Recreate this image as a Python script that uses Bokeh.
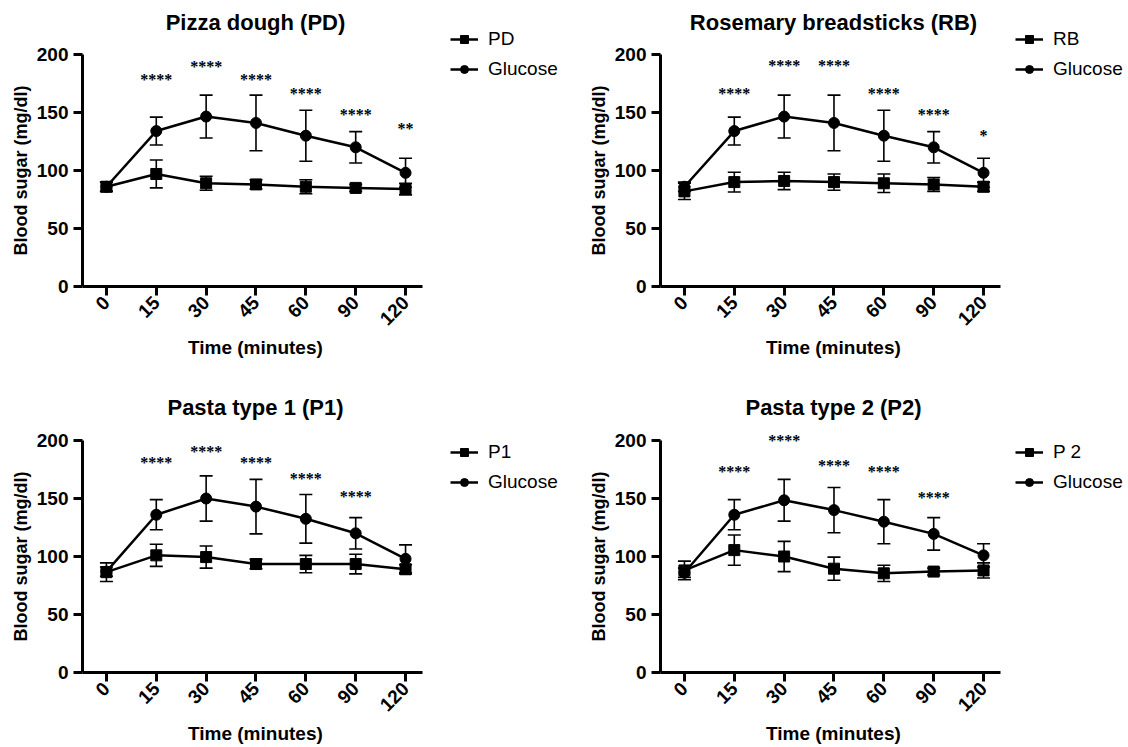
import math
from bokeh.plotting import figure
from bokeh.models import (Range1d, ColumnDataSource, Whisker, TeeHead, LabelSet,
                          Label, Legend, Title)
from bokeh.layouts import column, row
from bokeh.embed import file_html
from bokeh.resources import INLINE

# ---------------- data ----------------
times = ["0", "15", "30", "45", "60", "90", "120"]
y_ticks = [0, 50, 100, 150, 200]

pd_mean = [86, 97, 89, 88, 86, 85, 84]
pd_err = [4, 12, 6, 4, 6, 3, 5]
glu_pd_mean = [86, 134, 146.5, 141, 130, 120, 98]
glu_pd_err = [4, 12, 18.5, 24, 22, 13.5, 12.5]
pd_star_idx = [1, 2, 3, 4, 5, 6]
pd_star_txt = ["****", "****", "****", "****", "****", "**"]
pd_star_y = [179, 190.5, 179, 167, 149, 137]

rb_mean = [82, 90, 91, 90, 89, 88, 86]
rb_err = [7, 8.5, 7.5, 7, 8, 6, 4]
glu_rb_mean = [86, 134, 146.5, 141, 130, 120, 98]
glu_rb_err = [4, 12, 18.5, 24, 22, 13.5, 12.5]
rb_star_idx = [1, 2, 3, 4, 5, 6]
rb_star_txt = ["****", "****", "****", "****", "****", "*"]
rb_star_y = [167, 191, 191, 167, 149, 131]

p1_mean = [86.5, 101, 99.5, 93.5, 93.5, 93.5, 89]
p1_err = [8, 9.5, 9.5, 4, 7.5, 8.5, 4]
glu_p1_mean = [87, 136, 150, 143, 132.5, 120, 98]
glu_p1_err = [4, 13, 19.5, 23.5, 21, 13.5, 12]
p1_star_idx = [1, 2, 3, 4, 5]
p1_star_txt = ["****", "****", "****", "****", "****"]
p1_star_y = [182, 191.5, 182, 168, 153]

p2_mean = [88, 105.5, 100, 89.5, 85.5, 87, 88]
p2_err = [8, 13, 13, 10, 7, 3, 6.5]
glu_p2_mean = [86, 136, 148.5, 140, 130, 119.5, 101]
glu_p2_err = [4, 13, 18, 19.5, 19, 14, 10]
p2_star_idx = [1, 2, 3, 4, 5]
p2_star_txt = ["****", "****", "****", "****", "****"]
p2_star_y = [174, 201, 179, 174, 152]

FONT = "Liberation Sans"
X_LO, X_HI = -0.48, 6.34      # extent of the drawn x axis
Y_LO, Y_HI = 0, 200           # extent of the drawn y axis
AX_W, AX_H = 340, 232         # pixel length of the drawn axes
PX_X = AX_W / (X_HI - X_LO)
PX_Y = AX_H / (Y_HI - Y_LO)


def panel(title, food_label, food_mean, food_err, glu_mean, glu_err,
          star_idx, star_txt, star_y, left, fw, fh, bottom, title_dy, leg_loc):
    xs = list(range(len(times)))
    p = figure(frame_width=fw, frame_height=fh,
               x_range=Range1d(X_LO, X_LO + fw / PX_X),
               y_range=Range1d(Y_LO, Y_LO + fh / PX_Y),
               output_backend="svg", toolbar_location=None,
               min_border_left=left, min_border_right=0,
               min_border_top=0, min_border_bottom=bottom)
    p.outline_line_color = None
    p.grid.visible = False
    p.background_fill_color = "white"
    p.border_fill_color = "white"

    for ax in (p.xaxis[0], p.yaxis[0]):
        ax.axis_line_width = 3
        ax.axis_line_color = "black"
        ax.major_tick_line_width = 3
        ax.major_tick_line_color = "black"
        ax.major_tick_out = 9
        ax.major_tick_in = 0
        ax.minor_tick_line_color = None
        ax.major_label_text_font = FONT
        ax.major_label_text_font_style = "bold"
        ax.major_label_text_font_size = "19px"
        ax.major_label_text_color = "black"

    p.xaxis.bounds = (X_LO, X_HI)
    p.xaxis.ticker = xs
    p.xaxis.major_label_overrides = {i: t for i, t in enumerate(times)}
    p.xaxis.major_label_orientation = math.pi / 4
    p.xaxis.major_label_standoff = 4

    p.yaxis.bounds = (Y_LO, Y_HI)
    p.yaxis.ticker = y_ticks
    p.yaxis.major_label_standoff = 5

    # axis titles, centred on the drawn axes (not on the whole frame)
    xt_len = 135   # approx. pixel length of "Time (minutes)" at 19px bold
    yt_len = 170   # approx. pixel length of "Blood sugar (mg/dl)" at 18px bold
    p.add_layout(Title(text="Time (minutes)", align="left",
                       offset=AX_W / 2 + 3 - xt_len / 2, standoff=0,
                       text_font=FONT, text_font_style="bold",
                       text_font_size="19px", text_color="black"), "below")
    p.add_layout(Title(text="Blood sugar (mg/dl)", align="left",
                       offset=AX_H / 2 - yt_len / 2, standoff=5,
                       text_font=FONT, text_font_style="bold",
                       text_font_size="18px", text_color="black"), "left")

    # panel title
    p.add_layout(Label(x=(X_LO + X_HI) / 2, y=Y_HI, x_offset=3, y_offset=title_dy,
                       text=title, text_align="center", text_baseline="middle",
                       text_font=FONT, text_font_style="bold",
                       text_font_size="22px", text_color="black"))

    src = ColumnDataSource(dict(
        x=xs,
        food=food_mean,
        food_lo=[m - e for m, e in zip(food_mean, food_err)],
        food_hi=[m + e for m, e in zip(food_mean, food_err)],
        glu=glu_mean,
        glu_lo=[m - e for m, e in zip(glu_mean, glu_err)],
        glu_hi=[m + e for m, e in zip(glu_mean, glu_err)],
    ))

    for lo, hi in (("glu_lo", "glu_hi"), ("food_lo", "food_hi")):
        w = Whisker(source=src, base="x", lower=lo, upper=hi,
                    line_width=1.6, line_color="black",
                    upper_head=TeeHead(size=13, line_width=1.6, line_color="black"),
                    lower_head=TeeHead(size=13, line_width=1.6, line_color="black"))
        p.add_layout(w)

    fl = p.line("x", "food", source=src, line_width=2.5, color="black")
    fs = p.scatter("x", "food", source=src, marker="square", size=11, color="black")
    gl = p.line("x", "glu", source=src, line_width=2.5, color="black")
    gs = p.scatter("x", "glu", source=src, marker="circle", size=11, color="black")

    ssrc = ColumnDataSource(dict(x=star_idx, y=star_y, t=star_txt))
    p.add_layout(LabelSet(x="x", y="y", text="t", source=ssrc,
                          text_align="center", text_baseline="middle",
                          text_font=FONT, text_font_style="bold",
                          text_font_size="16px", text_color="black", y_offset=-1))

    lg = Legend(items=[(food_label, [fl, fs]), ("Glucose", [gl, gs])],
                location=leg_loc, border_line_color=None,
                background_fill_alpha=0, padding=0, margin=0, spacing=8,
                glyph_width=28, glyph_height=20, label_height=20,
                label_standoff=10, label_text_font=FONT,
                label_text_font_size="19px", label_text_color="black")
    p.add_layout(lg)
    return p


# frames fill each cell to the top and right; axes are bounded to 340x232 px
pA = panel("Pizza dough (PD)", "PD", pd_mean, pd_err, glu_pd_mean, glu_pd_err,
           pd_star_idx, pd_star_txt, pd_star_y, 82, 482, 286, 87, 32, (368, 206))
pB = panel("Rosemary breadsticks (RB)", "RB", rb_mean, rb_err, glu_rb_mean, glu_rb_err,
           rb_star_idx, rb_star_txt, rb_star_y, 96, 468, 286, 87, 32, (355, 206))
pC = panel("Pasta type 1 (P1)", "P1", p1_mean, p1_err, glu_p1_mean, glu_p1_err,
           p1_star_idx, p1_star_txt, p1_star_y, 82, 482, 299, 75, 33, (368, 179))
pD = panel("Pasta type 2 (P2)", "P 2", p2_mean, p2_err, glu_p2_mean, glu_p2_err,
           p2_star_idx, p2_star_txt, p2_star_y, 96, 468, 299, 75, 33, (355, 179))

layout = column(row(pA, pB), row(pC, pD))
open("out.html", "w").write(file_html(layout, INLINE))
